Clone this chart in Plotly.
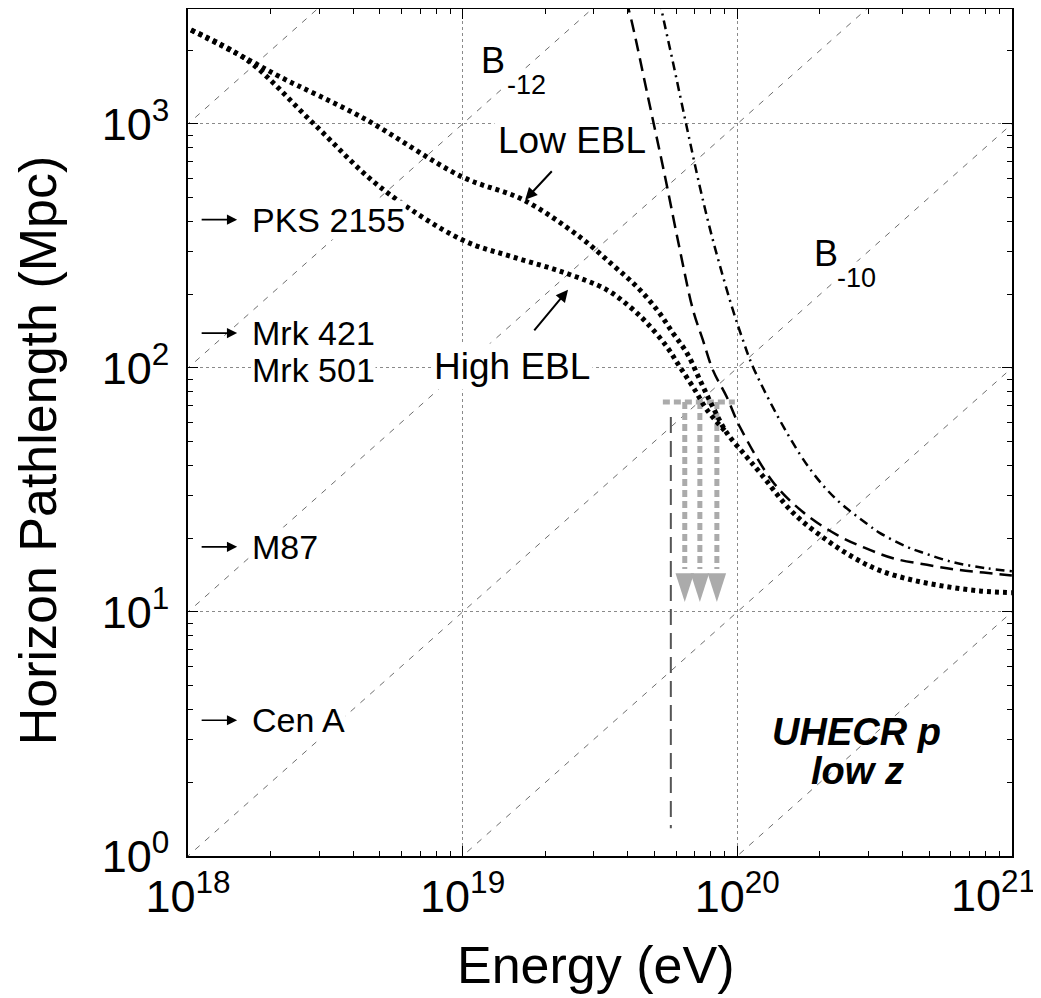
import math
import plotly.graph_objects as go

# energy in eV, horizon pathlength in Mpc
low_ebl_energy = [1.026e18, 1.641e18, 2.163e18, 4.335e18, 9.954e18, 1.660e19, 2.673e19, 3.524e19,
                  4.315e19, 5.105e19, 5.834e19, 6.561e19, 7.311e19, 8.147e19, 9.162e19, 1.067e20,
                  1.211e20, 1.596e20, 2.118e20, 2.68e20, 3.30e20, 4.36e20, 5.80e20, 7.64e20, 1.0e21]
low_ebl_length = [2427, 1845, 1560, 1059, 607, 489, 344, 264, 215, 173, 139, 115, 89.3, 69.2, 54.2,
                  44.0, 37.2, 25.5, 19.7, 16.6, 14.8, 13.5, 12.7, 12.2, 12.0]

high_ebl_energy = [1.026e18, 1.641e18, 2.851e18, 5.000e18, 9.954e18, 1.524e19, 2.317e19, 3.350e19,
                   4.064e19, 4.688e19, 5.546e19, 6.180e19, 6.902e19, 7.762e19, 9.162e19, 1.067e20,
                   1.211e20, 1.596e20, 2.118e20, 2.68e20, 3.30e20, 4.36e20, 5.80e20, 7.64e20, 1.0e21]
high_ebl_length = [2427, 1828, 1009, 552, 335, 285, 247, 209, 178, 153, 122, 101, 83.6, 67.3, 54.2,
                   44.0, 37.2, 25.5, 19.7, 16.6, 14.8, 13.5, 12.7, 12.2, 12.0]
merge_energy = 9.162e19  # both EBL curves coincide above this

b12_energy = [3.94e19, 4.14e19, 4.73e19, 5.46e19, 6.18e19, 6.90e19, 7.50e19, 8.147e19, 9.162e19,
              1.023e20, 1.349e20, 1.734e20, 2.307e20, 2.92e20, 3.690e20, 4.909e20, 6.31e20,
              7.9e20, 1.0e21]
b12_length = [3221, 2594, 1291, 607, 305, 173, 130, 98.2, 76.0, 57.3, 34.1, 25.7, 20.7, 18.3, 16.6,
              15.6, 14.9, 14.5, 14.1]

b10_energy = [5.22e19, 5.32e19, 5.83e19, 6.56e19, 7.31e19, 7.94e19, 8.65e19, 9.64e19, 1.049e20,
              1.141e20, 1.517e20, 1.884e20, 2.307e20, 2.965e20, 3.30e20, 4.15e20, 4.74e20, 6.10e20,
              8.11e20, 1.0e21]
b10_length = [3221, 2877, 1795, 963, 552, 375, 262, 173, 130, 101, 54.2, 37.2, 28.8, 23.0, 21.1,
              18.5, 17.5, 16.0, 15.1, 14.7]

# constant-ratio guide lines: L = E / 10^k
diag_exponents = [15, 16, 17, 18, 19, 20]

# cutoff arrows
band_energy = [5.36e19, 9.8e19]
band_length = 72.6
arrow_energy = [6.44e19, 7.31e19, 8.43e19]
arrow_tip_length = 11.0
arrow_top_length = 15.0
auger_energy = 5.73e19
auger_length = [63, 1.30]

# sources
source_names = ["PKS 2155", "Mrk 421", "M87", "Cen A"]
source_distance = [405, 139, 18.5, 3.6]
mrk501_distance = 98
source_arrow_energy = 1.51e18
label_energy = 1.69e18

xtick_vals = [1e18, 1e19, 1e20, 1e21]
xtick_text = ["10<sup>18</sup>", "10<sup>19</sup>", "10<sup>20</sup>", ""]
ytick_vals = [1, 10, 100, 1000]
ytick_text = ["10<sup>0</sup>", "10<sup>1</sup>", "10<sup>2</sup>", "10<sup>3</sup>"]

FONT = "Liberation Sans, Arial, Helvetica, sans-serif"
lg = math.log10

fig = go.Figure()

for k in diag_exponents:
    fig.add_trace(go.Scatter(
        x=[1e17, 1e22], y=[1e17 / 10.0**k, 1e22 / 10.0**k], mode="lines",
        line=dict(color="#6e6e6e", width=1, dash="6px,7px"), hoverinfo="skip"))

# gray cutoff band and arrows
GRAY = "#ababab"
fig.add_trace(go.Scatter(x=band_energy, y=[band_length, band_length], mode="lines",
                         line=dict(color=GRAY, width=5, dash="7px,4px")))
for e in arrow_energy:
    fig.add_trace(go.Scatter(x=[e, e], y=[band_length, arrow_top_length], mode="lines",
                             line=dict(color=GRAY, width=5, dash="7px,4px")))
fig.add_trace(go.Scatter(x=arrow_energy, y=[arrow_tip_length] * 3, mode="markers",
                         marker=dict(symbol="arrow", angle=180, size=30, color=GRAY,
                                     line=dict(width=0))))
fig.add_trace(go.Scatter(x=[auger_energy, auger_energy], y=auger_length, mode="lines",
                         line=dict(color="#555555", width=2, dash="16px,8px")))

fig.add_trace(go.Scatter(x=b10_energy, y=b10_length, mode="lines", line_shape="spline",
                         line=dict(color="black", width=2.5, dash="9px,5px,2px,5px")))
fig.add_trace(go.Scatter(x=b12_energy, y=b12_length, mode="lines", line_shape="spline",
                         line=dict(color="black", width=2.5, dash="13px,7px")))
n_high = high_ebl_energy.index(merge_energy) + 1
fig.add_trace(go.Scatter(x=high_ebl_energy[:n_high], y=high_ebl_length[:n_high], mode="lines",
                         line_shape="spline", line=dict(color="black", width=5, dash="4px,4px")))
fig.add_trace(go.Scatter(x=low_ebl_energy, y=low_ebl_length, mode="lines", line_shape="spline",
                         line=dict(color="black", width=5, dash="4px,4px")))

# invisible trace carrying the mirrored top / right axes
fig.add_trace(go.Scatter(x=low_ebl_energy, y=low_ebl_length, xaxis="x2", yaxis="y2",
                         mode="lines", line=dict(width=0), opacity=0, hoverinfo="skip"))

ann = []
for name, d in zip(source_names, source_distance):
    ann.append(dict(x=lg(source_arrow_energy), y=lg(d), text="", showarrow=True, ax=-37, ay=0,
                    arrowhead=2, arrowsize=1.2, arrowwidth=1.7, arrowcolor="black"))
    ann.append(dict(x=lg(label_energy), y=lg(d), text=name, showarrow=False, xanchor="left",
                    font=dict(size=34, color="black", family=FONT), bgcolor="white", borderpad=0))
ann.append(dict(x=lg(label_energy), y=lg(mrk501_distance), text="Mrk 501", showarrow=False,
                xanchor="left", font=dict(size=34, color="black", family=FONT),
                bgcolor="white", borderpad=0))

ann += [
    # last x tick label, nudged left so it stays inside the page
    dict(x=lg(xtick_vals[-1]), yref="paper", y=0, xanchor="right", yanchor="top",
         xshift=26, yshift=-5, text="10<sup>21</sup>", showarrow=False,
         font=dict(size=45, color="black", family=FONT)),
    dict(x=lg(1.69e19), y=lg(489), text="", showarrow=True, ax=28, ay=-30,
         arrowhead=2, arrowsize=1.2, arrowwidth=2, arrowcolor="black"),
    dict(x=lg(2.42e19), y=lg(209), text="", showarrow=True, ax=-35, ay=42,
         arrowhead=2, arrowsize=1.2, arrowwidth=2, arrowcolor="black"),
    dict(x=19.398, y=2.934, text="Low EBL", showarrow=False, bgcolor="white", borderpad=3,
         font=dict(size=37, color="black", family=FONT)),
    dict(x=19.180, y=2.004, text="High EBL", showarrow=False, bgcolor="white", borderpad=2,
         font=dict(size=37, color="black", family=FONT)),
    dict(x=19.110, y=3.258, text="B", showarrow=False, bgcolor="white",
         font=dict(size=36, color="black", family=FONT)),
    dict(x=19.231, y=3.160, text="-12", showarrow=False, bgcolor="white",
         font=dict(size=27, color="black", family=FONT)),
    dict(x=20.323, y=2.471, text="B", showarrow=False, bgcolor="white",
         font=dict(size=36, color="black", family=FONT)),
    dict(x=20.436, y=2.369, text="-10", showarrow=False, bgcolor="white",
         font=dict(size=27, color="black", family=FONT)),
    dict(x=20.436, y=0.508, text="<b><i>UHECR p</i></b>", showarrow=False,
         font=dict(size=38, color="black", family=FONT)),
    dict(x=20.439, y=0.348, text="<b><i>low z</i></b>", showarrow=False,
         font=dict(size=38, color="black", family=FONT)),
    dict(xref="paper", yref="paper", x=0.494, y=-0.165, xanchor="center", yanchor="bottom",
         text="Energy (eV)", showarrow=False, font=dict(size=52, color="black", family=FONT)),
    dict(xref="paper", yref="paper", x=-0.182, y=0.479, xanchor="center", yanchor="middle",
         text="Horizon Pathlength (Mpc)", textangle=-90, showarrow=False,
         font=dict(size=52, color="black", family=FONT)),
]

minor_x = [m * 10.0**d for d in range(18, 21) for m in range(2, 10)]
minor_y = [m * 10.0**d for d in range(0, 4) for m in range(2, 10)]
x_range = [18, 21.0005]
y_range = [0, 3.471]

axis_common = dict(
    type="log", showline=True, linecolor="black", linewidth=1.5, mirror=True,
    ticks="inside", ticklen=10, tickwidth=1, tickcolor="black",
    zeroline=False, tickfont=dict(size=45, color="black", family=FONT), tickmode="array",
)
minor_common = dict(tickmode="array", ticks="inside", ticklen=5, tickcolor="black",
                    showgrid=False)
grid = dict(showgrid=True, gridcolor="#8a8a8a", gridwidth=1, griddash="dot")

fig.update_layout(
    width=1033, height=990,
    margin=dict(l=180, r=29, t=1, b=142),
    paper_bgcolor="white", plot_bgcolor="white",
    showlegend=False,
    xaxis=dict(range=x_range, tickvals=xtick_vals, ticktext=xtick_text, automargin=False,
               minor=dict(tickvals=minor_x, **minor_common), **grid, **axis_common),
    yaxis=dict(range=y_range, tickvals=ytick_vals, ticktext=ytick_text, automargin=False,
               ticklabelstandoff=8,
               minor=dict(tickvals=minor_y, **minor_common), **grid, **axis_common),
    xaxis2=dict(range=x_range, overlaying="x", side="top", anchor="y", tickvals=xtick_vals,
                showticklabels=False, showgrid=False, automargin=False,
                minor=dict(tickvals=minor_x, **minor_common), **axis_common),
    yaxis2=dict(range=y_range, overlaying="y", side="right", anchor="x", tickvals=ytick_vals,
                showticklabels=False, showgrid=False, automargin=False,
                minor=dict(tickvals=minor_y, **minor_common), **axis_common),
    annotations=ann,
)

fig.write_html("out.html")
